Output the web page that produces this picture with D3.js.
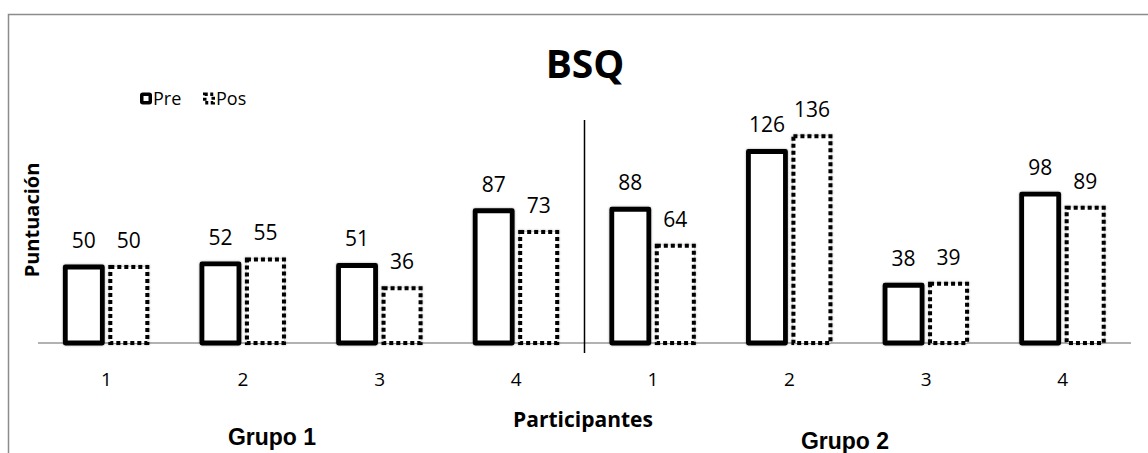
<!DOCTYPE html>
<html><head><meta charset="utf-8">
<script src="https://cdn.jsdelivr.net/npm/d3@7"></script>
<style>body{margin:0;background:#fff}svg{display:block}</style>
</head><body>
<svg id="c" width="1148" height="453"></svg>
<script>
const categories = ["1","2","3","4","1","2","3","4"];
const preValues = [50,52,51,87,88,126,38,98];
const posValues = [50,55,36,73,64,136,39,89];
const seriesNames = ["Pre","Pos"];
const groupLabels = ["Grupo 1","Grupo 2"];
const title = "BSQ";
const xTitle = "Participantes";
const yTitle = "Puntuación";

const svg = d3.select("#c");
const font = "'Open Sans', sans-serif";

const defs = svg.append("defs");
const f = defs.append("filter").attr("id","sh").attr("x","-20%").attr("y","-20%").attr("width","140%").attr("height","140%");
f.append("feDropShadow").attr("dx",0).attr("dy",0).attr("stdDeviation",1.2)
  .attr("flood-color","#000").attr("flood-opacity",0.35);

// chart border
svg.append("rect").attr("x",8.5).attr("y",14.5).attr("width",1200).attr("height",500)
  .attr("fill","none").attr("stroke","#8c8c8c").attr("stroke-width",1.5);

const x = d3.scaleBand().domain(d3.range(categories.length)).range([38,1131]);
const y = d3.scaleLinear().domain([0,140]).range([343, 343-140*1.52]);

// baseline
svg.append("line").attr("x1",38).attr("x2",1131).attr("y1",y(0)).attr("y2",y(0))
  .attr("stroke","#999").attr("stroke-width",1.5);

const bw = 37;
const cx = i => x(i) + x.bandwidth()/2;

// Pre bars
svg.selectAll("rect.pre").data(preValues).join("rect").attr("class","pre")
  .attr("x",(d,i)=>cx(i)-41).attr("width",bw)
  .attr("y",d=>y(d)).attr("height",d=>y(0)-y(d))
  .attr("fill","#fff").attr("stroke","#000").attr("stroke-width",4.8).attr("stroke-linejoin","round")
  .attr("filter","url(#sh)");

// Pos bars
svg.selectAll("rect.pos").data(posValues).join("rect").attr("class","pos")
  .attr("x",(d,i)=>cx(i)+4).attr("width",bw)
  .attr("y",d=>y(d)).attr("height",d=>y(0)-y(d))
  .attr("fill","#fff").attr("stroke","#000").attr("stroke-width",4).attr("stroke-dasharray","4,3")
  .attr("filter","url(#sh)");

// value labels
svg.selectAll("text.pl").data(preValues).join("text").attr("class","pl")
  .attr("x",(d,i)=>cx(i)-22.5).attr("y",d=>y(d)-19).attr("text-anchor","middle")
  .attr("font-family",font).attr("font-size",21).attr("fill","#000").text(d=>d);
svg.selectAll("text.ql").data(posValues).join("text").attr("class","ql")
  .attr("x",(d,i)=>cx(i)+22.5).attr("y",d=>y(d)-19).attr("text-anchor","middle")
  .attr("font-family",font).attr("font-size",21).attr("fill","#000").text(d=>d);

// category axis labels
svg.selectAll("text.cat").data(categories).join("text").attr("class","cat")
  .attr("x",(d,i)=>cx(i)).attr("y",386).attr("text-anchor","middle")
  .attr("font-family",font).attr("font-size",19).attr("fill","#000").text(d=>d);

// divider between groups
svg.append("line").attr("x1",x(4)).attr("x2",x(4)).attr("y1",120).attr("y2",353)
  .attr("stroke","#000").attr("stroke-width",1.5);

// title
svg.append("text").attr("x",585).attr("y",78).attr("text-anchor","middle")
  .attr("font-family",font).attr("font-weight","bold").attr("font-size",39).text(title);

// axis titles
svg.append("text").attr("x",583).attr("y",427).attr("text-anchor","middle")
  .attr("font-family",font).attr("font-weight","bold").attr("font-size",21).text(xTitle);
svg.append("text").attr("transform","translate(39,220) rotate(-90)").attr("text-anchor","middle")
  .attr("font-family",font).attr("font-weight","bold").attr("font-size",20).text(yTitle);

// group labels
svg.append("text").attr("x",272).attr("y",445).attr("text-anchor","middle")
  .attr("font-family","'Liberation Sans', Arial, sans-serif").attr("font-weight","bold").attr("font-size",23).text(groupLabels[0]);
svg.append("text").attr("x",845).attr("y",449).attr("text-anchor","middle")
  .attr("font-family","'Liberation Sans', Arial, sans-serif").attr("font-weight","bold").attr("font-size",23).text(groupLabels[1]);

// legend
const lg = svg.append("g");
lg.append("rect").attr("x",141.75).attr("y",94.25).attr("width",8.5).attr("height",8.5)
  .attr("fill","#fff").attr("stroke","#000").attr("stroke-width",3.5).attr("rx",1);
lg.append("text").attr("x",153).attr("y",105).attr("font-family",font).attr("font-size",18).text(seriesNames[0]);
lg.append("rect").attr("x",204.75).attr("y",94.25).attr("width",8.5).attr("height",8.5)
  .attr("fill","#fff").attr("stroke","#000").attr("stroke-width",3.5).attr("stroke-dasharray","3,2.5");
lg.append("text").attr("x",216).attr("y",105).attr("font-family",font).attr("font-size",18).text(seriesNames[1]);
</script>
</body></html>
